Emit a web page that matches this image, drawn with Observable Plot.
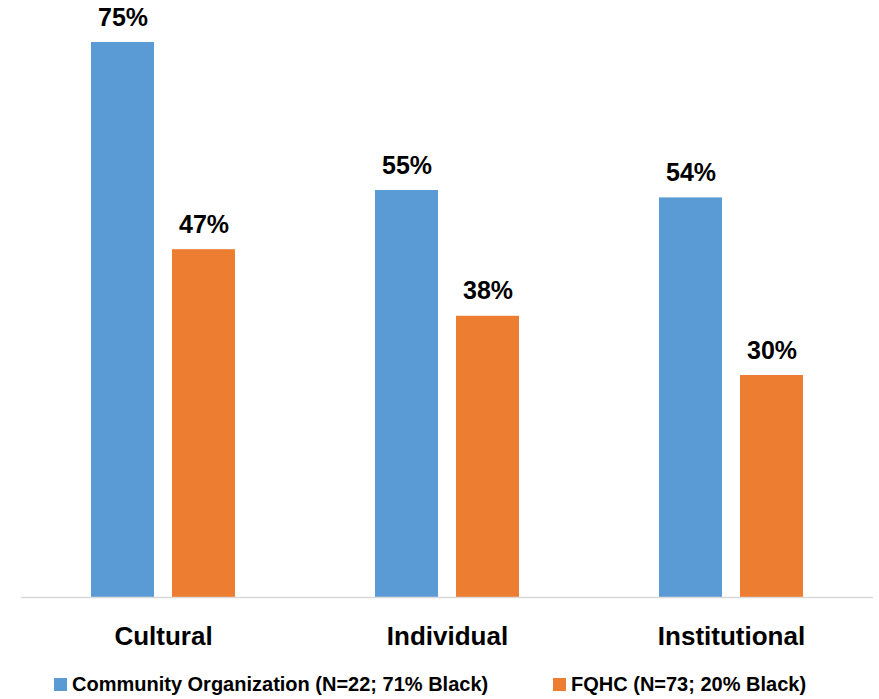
<!DOCTYPE html>
<html>
<head>
<meta charset="utf-8">
<script src="https://cdn.jsdelivr.net/npm/d3@7"></script>
<script src="https://cdn.jsdelivr.net/npm/@observablehq/plot@0.6"></script>
<style>
  html, body { margin: 0; padding: 0; background: #fff; }
  body { width: 879px; height: 699px; overflow: hidden; font-family: "Liberation Sans", sans-serif; }
  #chart svg { display: block; }
  .legend { position: relative; height: 37px; font-weight: bold; font-size: 20px; color: #000; }
  .legend .item { position: absolute; top: 4px; display: flex; align-items: center; height: 37px; white-space: nowrap; }
  .legend .sw { width: 13px; height: 13px; margin-right: 5px; }
</style>
</head>
<body>
<div id="chart"></div>
<div class="legend" id="legend"></div>
<script>
const categories = ["Cultural", "Individual", "Institutional"];
const seriesNames = ["Community Organization (N=22; 71% Black)", "FQHC (N=73; 20% Black)"];
const communityValues = [75, 55, 54];
const fqhcValues = [47, 38, 30];
const colors = ["#5B9BD5", "#ED7D31"];

const data = categories.flatMap((c, i) => [
  {cat: c, series: seriesNames[0], value: communityValues[i]},
  {cat: c, series: seriesNames[1], value: fqhcValues[i]}
]);

const chart = Plot.plot({
  width: 879,
  height: 662,
  marginLeft: 21,
  marginRight: 6,
  marginTop: 5,
  marginBottom: 65,
  style: {fontFamily: "'Liberation Sans', sans-serif", background: "#fff"},
  fx: {domain: categories, padding: 0, label: null},
  x: {domain: seriesNames, axis: null, paddingInner: 0.222, paddingOuter: 0.864},
  y: {domain: [0, 80], axis: null},
  color: {domain: seriesNames, range: colors},
  marks: [
    Plot.barY(data, {fx: "cat", x: "series", y: "value", fill: "series"}),
    Plot.ruleY([0], {stroke: "#d9d9d9", strokeWidth: 1.5}),
    Plot.text(data, {fx: "cat", x: "series", y: "value", text: d => d.value + "%", dy: -17, lineAnchor: "bottom", fontSize: 25, fontWeight: "bold", fill: "#000"}),
    Plot.axisFx({anchor: "bottom", tickSize: 0, tickPadding: 29, label: null, fontSize: 26, fontWeight: "bold", fill: "#000"})
  ]
});
document.getElementById("chart").appendChild(chart);

const legend = document.getElementById("legend");
const lefts = [54, 553];
seriesNames.forEach((s, i) => {
  const item = document.createElement("div");
  item.className = "item";
  item.style.left = lefts[i] + "px";
  const sw = document.createElement("span");
  sw.className = "sw";
  sw.style.background = colors[i];
  const t = document.createElement("span");
  t.textContent = s;
  item.appendChild(sw);
  item.appendChild(t);
  legend.appendChild(item);
});
</script>
</body>
</html>
